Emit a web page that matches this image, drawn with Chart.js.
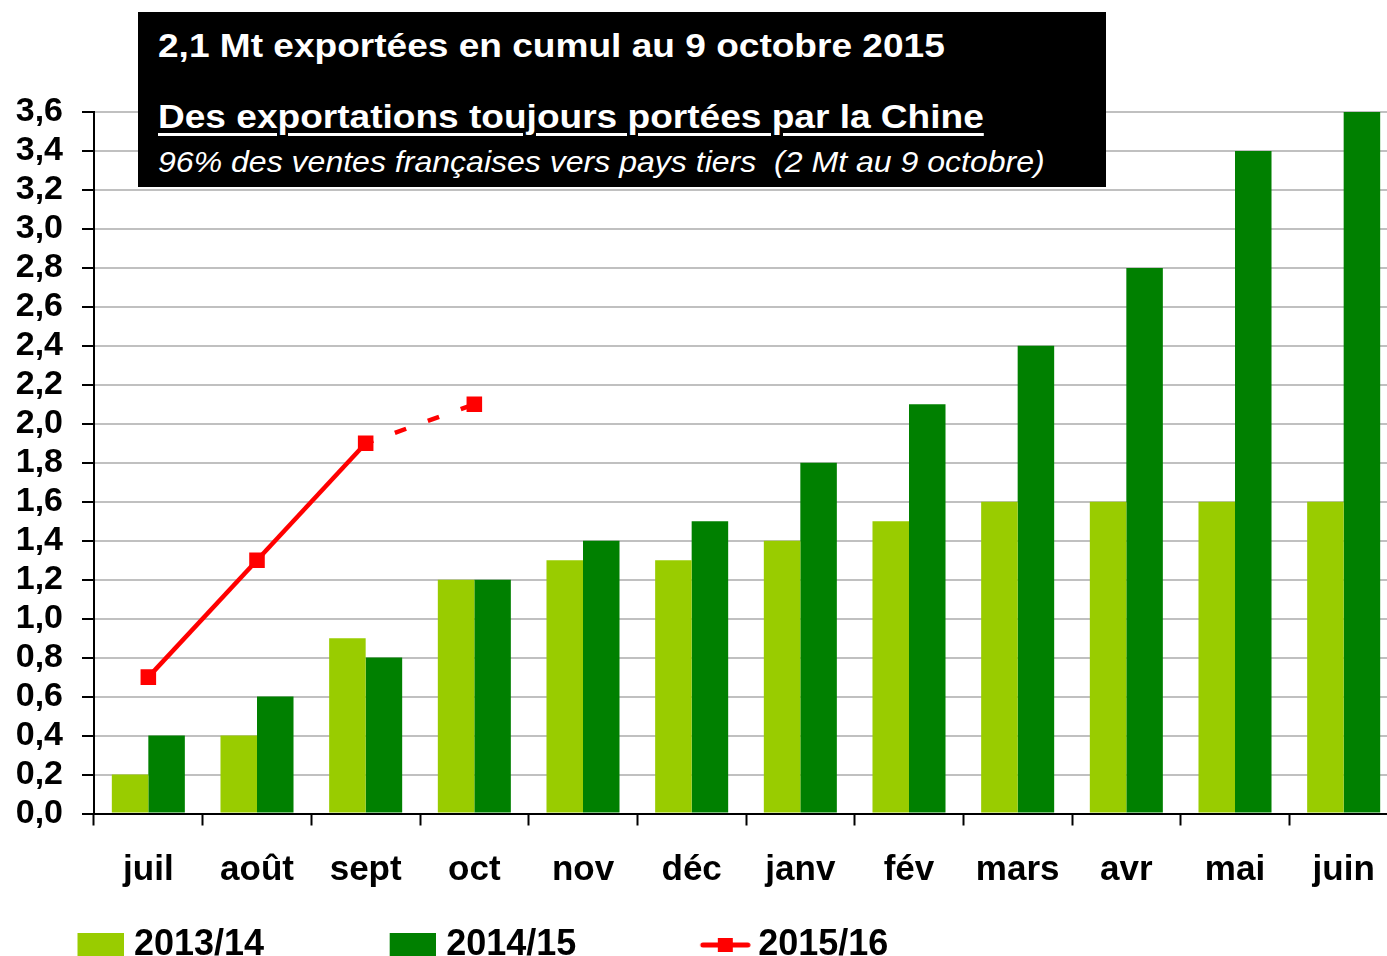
<!DOCTYPE html>
<html>
<head>
<meta charset="utf-8">
<script src="https://cdn.jsdelivr.net/npm/chart.js@4.4.0/dist/chart.umd.min.js"></script>
<style>
  body { margin: 0; background: #fff; overflow: hidden; }
  #wrap { position: relative; width: 1387px; height: 956px; overflow: hidden; background: #fff; }
  #exportsChart { position: absolute; left: -48px; top: 0; }
  #titleBox { position: absolute; left: 138px; top: 12px; width: 968px; height: 175px; background: #000; z-index: 2; }
  .tl { position: absolute; left: 20px; color: #fff; font-family: 'Liberation Sans', Arial, sans-serif;
        white-space: pre; transform: scaleX(1.09); transform-origin: 0 0; }
  #t1 { top: 16px; font-size: 34px; line-height: 34px; font-weight: bold; }
  #t2 { top: 87px; font-size: 34px; line-height: 34px; font-weight: bold;
        text-decoration: underline; text-underline-offset: 5px; text-decoration-thickness: 3px; }
  #t3 { top: 135px; font-size: 29.4px; line-height: 29.4px; font-style: italic; }
</style>
</head>
<body>
<div id="wrap">
  <canvas id="exportsChart" width="1457" height="980"></canvas>
  <div id="titleBox">
    <div class="tl" id="t1">2,1 Mt exportées en cumul au 9 octobre 2015</div>
    <div class="tl" id="t2">Des exportations toujours portées par la Chine</div>
    <div class="tl" id="t3">96% des ventes françaises vers pays tiers  (2 Mt au 9 octobre)</div>
  </div>
</div>
<script>
// chart data (Mt, cumulative)
const months = ['juil', 'août', 'sept', 'oct', 'nov', 'déc', 'janv', 'fév', 'mars', 'avr', 'mai', 'juin'];
const seriesNames = ['2013/14', '2014/15', '2015/16'];
const exports1314 = [0.2, 0.4, 0.9, 1.2, 1.3, 1.3, 1.4, 1.5, 1.6, 1.6, 1.6, 1.6];
const exports1415 = [0.4, 0.6, 0.8, 1.2, 1.4, 1.5, 1.8, 2.1, 2.4, 2.8, 3.4, 3.6];
const exports1516 = [0.7, 1.3, 1.9, 2.1];

const lightGreen = '#99CC00';
const darkGreen = '#008000';
const red = '#FF0000';

Chart.defaults.font.family = "'Liberation Sans', Arial, sans-serif";
Chart.defaults.color = '#000';

// legend icons: box / line with square, drawn on small canvases
function boxIcon(color) {
    const c = document.createElement('canvas');
    c.width = 159; c.height = 24;
    const g = c.getContext('2d');
    g.fillStyle = color;
    g.fillRect(113, 0, 46, 24);
    return c;
}
function lineIcon() {
    const c = document.createElement('canvas');
    c.width = 165; c.height = 16;
    const g = c.getContext('2d');
    g.strokeStyle = red;
    g.lineWidth = 5;
    g.lineCap = 'round';
    g.beginPath();
    g.moveTo(117, 8);
    g.lineTo(162, 8);
    g.stroke();
    g.fillStyle = red;
    g.fillRect(132, 1, 15, 14);
    return c;
}
const legendIcons = [boxIcon(lightGreen), boxIcon(darkGreen), lineIcon()];

const ctx = document.getElementById('exportsChart').getContext('2d');

let exportsChart = new Chart(ctx, {
    type: 'bar',
    data: {
        labels: months,
        datasets: [{
            label: seriesNames[0],
            data: exports1314,
            backgroundColor: lightGreen,
            borderWidth: 0,
            barPercentage: 1,
            categoryPercentage: 0.672
        }, {
            label: seriesNames[1],
            data: exports1415,
            backgroundColor: darkGreen,
            borderWidth: 0,
            barPercentage: 1,
            categoryPercentage: 0.672
        }, {
            type: 'line',
            label: seriesNames[2],
            data: exports1516,
            borderColor: red,
            backgroundColor: red,
            borderWidth: 4.5,
            tension: 0,
            pointStyle: 'rect',
            pointRadius: 11,
            pointBackgroundColor: red,
            pointBorderColor: red,
            pointBorderWidth: 0,
            segment: {
                // last week is an estimate -> dashed
                borderDash: s => s.p0DataIndex === 2 ? [12, 23] : undefined,
                borderDashOffset: s => s.p0DataIndex === 2 ? 4 : 0
            }
        }]
    },
    options: {
        responsive: false,
        devicePixelRatio: 1,
        animation: false,
        layout: {
            padding: { top: 112, left: 0, right: 1, bottom: 7 }
        },
        scales: {
            x: {
                grid: {
                    offset: true,
                    drawOnChartArea: false,
                    drawTicks: true,
                    tickLength: 12,
                    tickWidth: 2,
                    tickColor: '#000'
                },
                border: { color: '#000', width: 2 },
                ticks: {
                    color: '#000',
                    font: { size: 35, weight: 'bold' },
                    padding: 24,
                    maxRotation: 0,
                    autoSkip: false
                },
                afterFit: scale => { scale.height = 93.5; }
            },
            y: {
                min: 0,
                max: 3.6,
                grid: {
                    color: '#C0C0C0',
                    lineWidth: 2,
                    tickLength: 12,
                    tickWidth: 2,
                    tickColor: '#000'
                },
                border: { color: '#000', width: 2 },
                ticks: {
                    stepSize: 0.2,
                    autoSkip: false,
                    color: '#000',
                    font: { size: 34, weight: 'bold' },
                    padding: 19,
                    callback: v => v.toFixed(1).replace('.', ',')
                },
                afterFit: scale => { scale.width = 142; }
            }
        },
        plugins: {
            tooltip: { enabled: false },
            legend: {
                display: true,
                position: 'bottom',
                align: 'start',
                labels: {
                    color: '#000',
                    font: { size: 36, weight: 'bold' },
                    usePointStyle: true,
                    pointStyleWidth: 144,
                    padding: 20,
                    generateLabels: chart => Chart.defaults.plugins.legend.labels.generateLabels(chart)
                        .map((item, i) => Object.assign(item, { pointStyle: legendIcons[i] }))
                }
            }
        }
    }
});
</script>
</body>
</html>
